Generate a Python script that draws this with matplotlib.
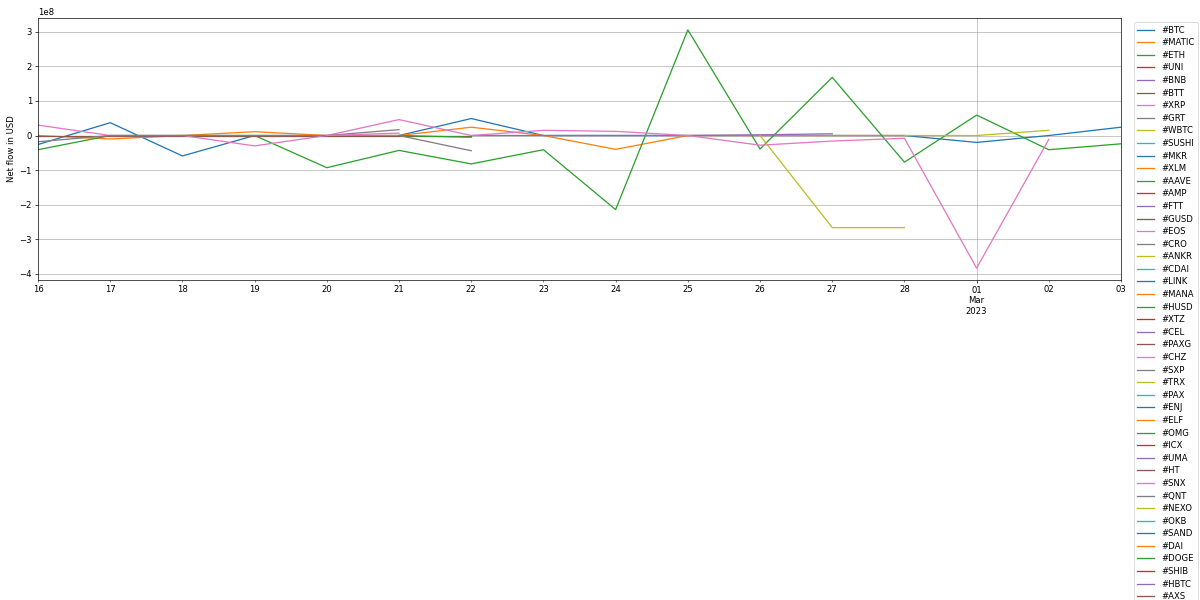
import numpy as np
import pandas as pd
import matplotlib
matplotlib.use("Agg")
import matplotlib.pyplot as plt
import matplotlib.dates as mdates
import matplotlib.ticker as mticker

# daily net flows, in units of 1e8 USD
dates = pd.date_range("2023-02-16", "2023-03-03", freq="D")

tickers = ["#BTC", "#MATIC", "#ETH", "#UNI", "#BNB", "#BTT", "#XRP", "#GRT",
           "#WBTC", "#SUSHI", "#MKR", "#XLM", "#AAVE", "#AMP", "#FTT", "#GUSD",
           "#EOS", "#CRO", "#ANKR", "#CDAI", "#LINK", "#MANA", "#HUSD", "#XTZ",
           "#CEL", "#PAXG", "#CHZ", "#SXP", "#TRX", "#PAX", "#ENJ", "#ELF",
           "#OMG", "#ICX", "#UMA", "#HT", "#SNX", "#QNT", "#NEXO", "#OKB",
           "#SAND", "#DAI", "#DOGE", "#SHIB", "#HBTC", "#AXS"]

nan = np.nan
btc = [-0.26, 0.37, -0.59, 0, 0, 0, 0.49, 0, 0, 0, 0, 0, 0, -0.20, 0, 0.24]
matic = [0, -0.10, 0, 0.11, 0, 0, 0.24, 0, -0.40, 0, 0, 0, 0, nan, nan, nan]
eth = [-0.41, 0, 0, 0, -0.93, -0.43, -0.82, -0.41, -2.14, 3.05, -0.39, 1.68,
       -0.77, 0.59, -0.41, -0.24]
bnb = [nan, nan, nan, nan, nan, nan, 0, 0, 0, 0, 0.02, 0.05, nan, nan, nan, nan]
btt = [0, 0, 0, 0, 0, 0, 0, nan, nan, nan, nan, nan, nan, nan, nan, nan]
xrp = [0.30, 0, 0, -0.30, 0, 0.46, 0, 0.15, 0.12, 0, -0.28, -0.16, -0.08,
       -3.83, -0.11, nan]
grt = [-0.18, 0, 0, 0, 0, 0.17, nan, nan, nan, nan, nan, nan, nan, nan, nan, nan]
wbtc = [nan, nan, nan, nan, nan, nan, nan, nan, nan, nan, nan, nan, 0, 0, 0.15, nan]
aave = [nan, nan, nan, nan, nan, 0, -0.05, nan, nan, nan, nan, nan, nan, nan, nan, nan]
eos = [nan, nan, nan, nan, 0, 0.07, nan, nan, nan, nan, nan, nan, nan, nan, nan, nan]
cro = [nan, nan, nan, nan, nan, 0, -0.44, nan, nan, nan, nan, nan, nan, nan, nan, nan]
ankr = [nan, nan, nan, nan, nan, nan, nan, nan, nan, nan, 0, -2.66, -2.66, nan, nan, nan]

known = {"#BTC": btc, "#MATIC": matic, "#ETH": eth, "#BNB": bnb, "#BTT": btt,
         "#XRP": xrp, "#GRT": grt, "#WBTC": wbtc, "#AAVE": aave, "#EOS": eos,
         "#CRO": cro, "#ANKR": ankr}

df = pd.DataFrame(index=dates)
for t in tickers:
    vals = known.get(t, [nan] * len(dates))
    df[t] = np.array(vals, dtype=float) * 1e8

fig = plt.figure(figsize=(19.5, 9.75), dpi=1200 / 19.5)
ax = fig.add_axes([0.0317, 0.5333, 0.9025, 0.4367])

for t in tickers:
    ax.plot(df.index, df[t], label=t)

ax.set_xlim(dates[0], dates[-1])
ax.xaxis.set_major_locator(mticker.FixedLocator([mdates.date2num(pd.Timestamp("2023-03-01"))]))
ax.xaxis.set_major_formatter(mticker.FixedFormatter(["01\nMar\n2023"]))
ax.xaxis.set_minor_locator(mticker.FixedLocator(
    [mdates.date2num(d) for d in dates if d != pd.Timestamp("2023-03-01")]))
ax.xaxis.set_minor_formatter(mdates.DateFormatter("%d"))
ax.tick_params(axis="x", which="minor", length=2)

ax.grid(True)
ax.set_ylabel("Net flow in USD")

ax.legend(loc="upper left", bbox_to_anchor=(1.008, 1.0), labelspacing=0.42)

fig.savefig("out.png", dpi=1200 / 19.5)
